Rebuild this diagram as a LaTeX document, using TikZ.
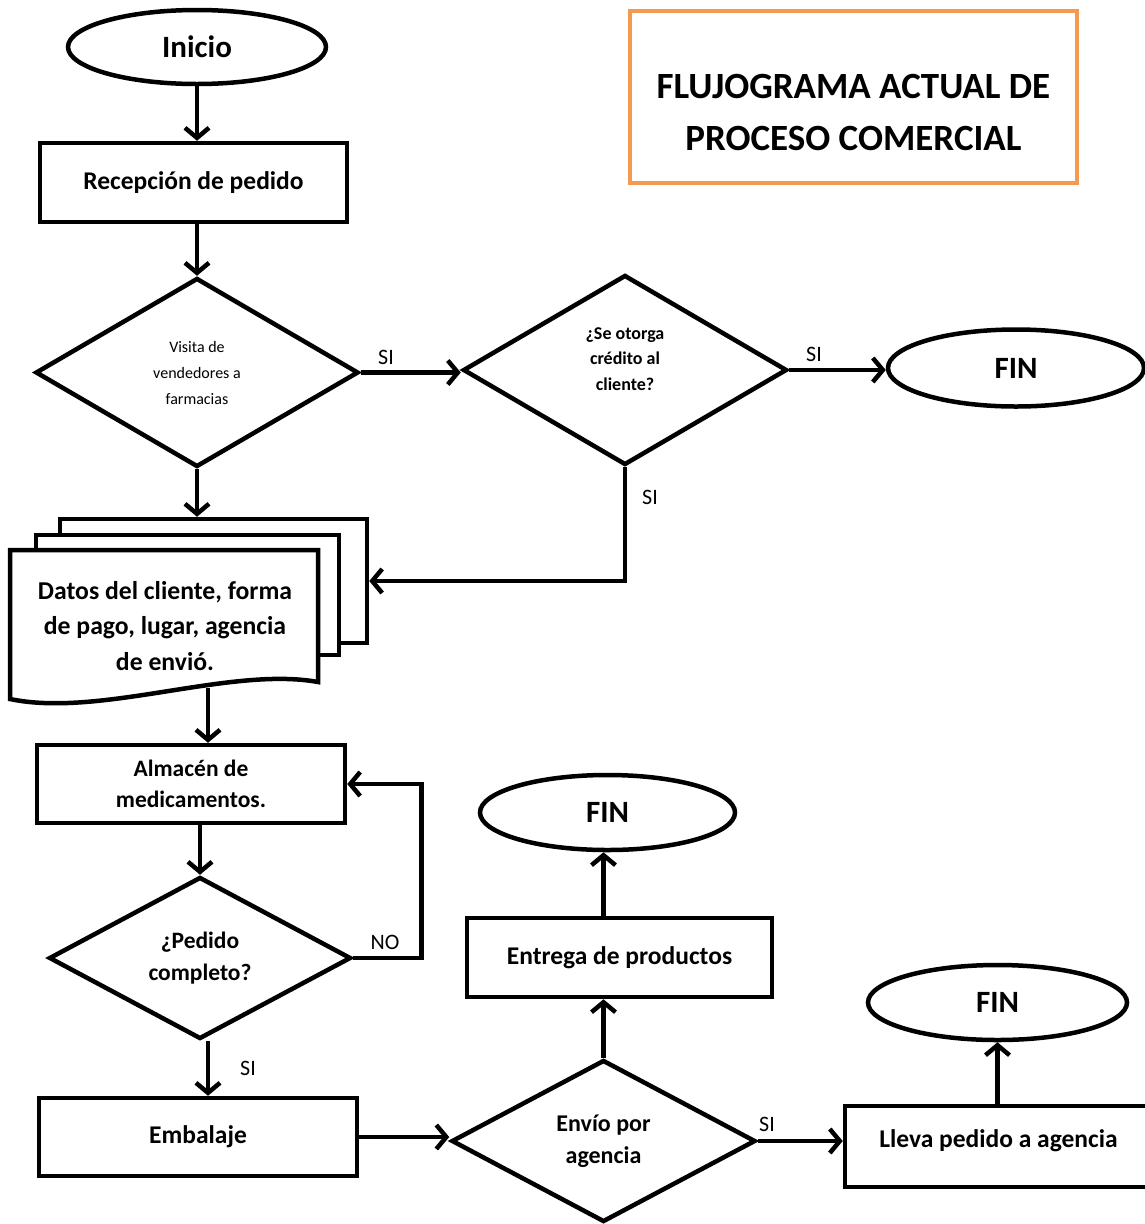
\documentclass[tikz,border=0pt]{standalone}
\usepackage{fontspec}
\setmainfont{Carlito}
\usetikzlibrary{shapes.geometric,arrows.meta,calc}
\definecolor{titleorange}{HTML}{F39A50}

\begin{document}
\begin{tikzpicture}[x=1pt,y=-1pt,line width=4.5pt,
  arr/.style={-{Straight Barb[length=10pt,width=24pt]}},
  shp/.style={draw,fill=white,inner sep=0pt,line width=4.5pt},
  box/.style={shp,rectangle,align=center,font=\bfseries\fontsize{25.5}{31}\selectfont},
  term/.style={shp,ellipse,font=\bfseries\fontsize{31}{36}\selectfont},
  dec/.style={shp,diamond,align=center},
  lbl/.style={font=\fontsize{22}{26}\selectfont,inner sep=0pt}
]
\useasboundingbox (0,0) rectangle (1145,1224);

% title
\node[draw=titleorange,line width=4pt,minimum width=447,minimum height=172,inner sep=0pt,
      label={[align=center,font=\bfseries\fontsize{37}{52}\selectfont,yshift=-15pt]center:{FLUJOGRAMA ACTUAL DE\\PROCESO COMERCIAL}}]
      (title) at (853.5,97) {};

% terminals
\node[term,minimum width=258,minimum height=74] (ini) at (197,47) {Inicio};
\node[term,minimum width=256,minimum height=77] (fin1) at (1016,368) {FIN};
\node[term,minimum width=255,minimum height=75] (fin2) at (607.5,812.5) {FIN};
\node[term,minimum width=259,minimum height=75] (fin3) at (997.5,1002.5) {FIN};

% process boxes
\node[box,minimum width=307,minimum height=79] (rec) at (193.5,182.5) {Recepción de pedido};
\node[box,minimum width=308,minimum height=78,font=\bfseries\fontsize{23.5}{31}\selectfont]
      (alm) at (191,784) {Almacén de\\medicamentos.};
\node[box,minimum width=318,minimum height=78] (emb) at (198,1137) {Embalaje};
\node[box,minimum width=305,minimum height=79] (ent) at (619.5,957.5) {Entrega de productos};
\node[box,minimum width=307,minimum height=81] (lle) at (998.5,1146.5) {};
\node[font=\bfseries\fontsize{25.5}{31}\selectfont] (lletxt) at ([yshift=6pt]lle.center) {Lleva pedido a agencia};

% decisions
\node[dec,minimum width=323,minimum height=189,font=\fontsize{16}{26}\selectfont]
      (d1) at (197,372.5) {Visita de\\vendedores a\\farmacias};
\node[dec,minimum width=324,minimum height=190,
      label={[align=center,font=\bfseries\fontsize{18}{25.5}\selectfont,yshift=11pt]center:{¿Se otorga\\crédito al\\cliente?}}]
      (d2) at (625,370) {};
\node[dec,minimum width=302,minimum height=162,font=\bfseries\fontsize{23.5}{32}\selectfont]
      (d3) at (200,958) {¿Pedido\\completo?};
\node[dec,minimum width=304,minimum height=162,font=\bfseries\fontsize{24}{32}\selectfont]
      (d4) at (603.5,1141) {Envío por\\agencia};

% multi-document stack
\node[shp,rectangle,minimum width=307,minimum height=124] (docback) at (213.5,581) {};
\node[shp,rectangle,minimum width=303,minimum height=120] (docmid) at (187.5,595) {};
\filldraw[fill=white,line join=miter] (10,550) -- (318,550) -- (318,682)
   .. controls (230,666) and (100,718) .. (10,699) -- cycle;
\node[align=center,font=\bfseries\fontsize{25.7}{35.5}\selectfont] (datos) at (165,626)
   {Datos del cliente, forma\\de pago, lugar, agencia\\de envió.};
\coordinate (docout) at (208,688);

% connectors
\draw[arr] (ini.south) -- (ini.south |- rec.north);
\draw[arr] (d1.north |- rec.south) -- (d1.north);
\draw[arr] (d1.east) -- (d1.east -| d2.west);
\draw[arr] (d2.east) -- (d2.east -| fin1.west);
\draw[arr] (d2.south) |- (docback.east);
\draw[arr] (d1.south) -- (d1.south |- docback.north);
\draw[arr] (docout) -- (docout |- alm.north);
\draw[arr] (d3.north |- alm.south) -- (d3.north);
\draw[arr] (d3.east) -- ++(68,0) |- (alm.east);
\draw[arr] ([xshift=8pt]d3.south) -- ([xshift=8pt]d3.south |- emb.north);
\draw[arr] (emb.east) -- (emb.east -| d4.west);
\draw[arr] (d4.north) -- (d4.north |- ent.south);
\draw[arr] (d4.north |- ent.north) -- (d4.north |- fin2.south);
\draw[arr] (d4.east) -- (d4.east -| lle.west);
\draw[arr] (fin3.south |- lle.north) -- (fin3.south);

% branch labels
\node[lbl] (l1) at (386,357) {SI};
\node[lbl] (l2) at (814,354) {SI};
\node[lbl] (l3) at (650,497) {SI};
\node[lbl] (l4) at (385,942) {NO};
\node[lbl] (l5) at (248,1068) {SI};
\node[lbl] (l6) at (767,1124) {SI};
\end{tikzpicture}
\end{document}
